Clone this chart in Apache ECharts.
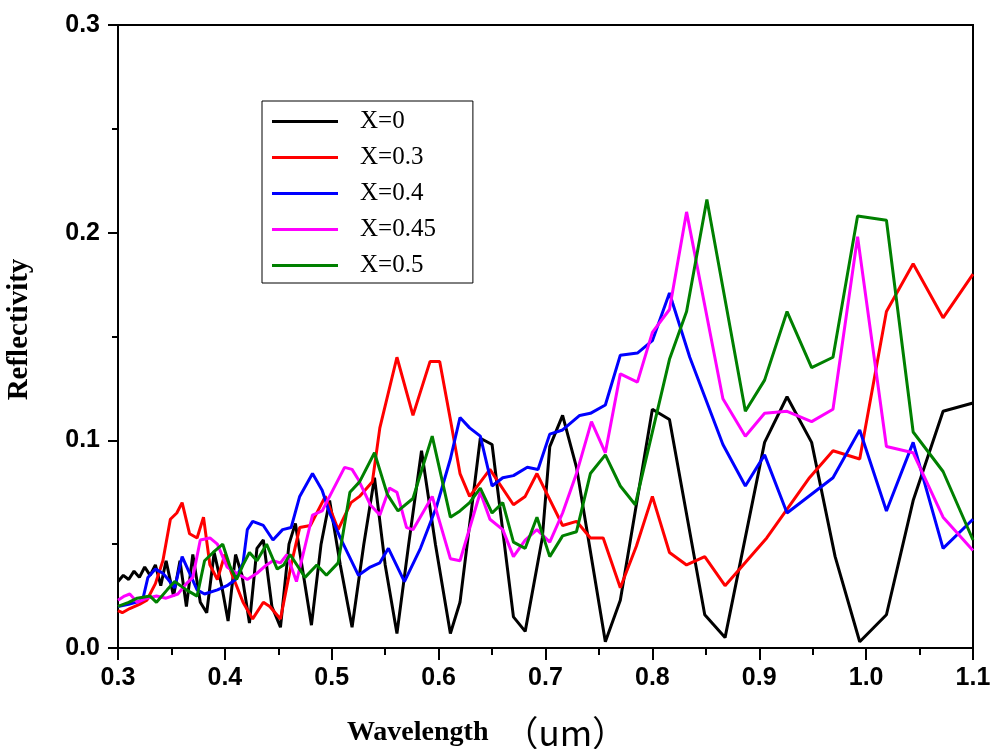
<!DOCTYPE html>
<html>
<head>
<meta charset="utf-8">
<script src="https://cdn.jsdelivr.net/npm/echarts@6/dist/echarts.min.js"></script>
<style>
  html, body { margin: 0; padding: 0; background: #fff; }
  #chart { width: 992px; height: 749px; }
</style>
</head>
<body>
<div id="chart"></div>
<script>
// wavelength (um) and reflectivity
const seriesNames = ['X=0', 'X=0.3', 'X=0.4', 'X=0.45', 'X=0.5']
const seriesColors = ['#000000', '#ff0000', '#0000ff', '#ff00ff', '#008000']

const wl0 = [0.300, 0.305, 0.310, 0.315, 0.320, 0.325, 0.330, 0.335, 0.340, 0.345, 0.352, 0.358, 0.364, 0.370, 0.377, 0.383, 0.390, 0.397, 0.403, 0.410, 0.416, 0.423, 0.430, 0.436, 0.444, 0.452, 0.460, 0.466, 0.472, 0.481, 0.490, 0.498, 0.508, 0.519, 0.530, 0.540, 0.550, 0.561, 0.572, 0.584, 0.597, 0.611, 0.620, 0.639, 0.650, 0.670, 0.681, 0.697, 0.704, 0.716, 0.729, 0.756, 0.770, 0.800, 0.816, 0.849, 0.868, 0.905, 0.926, 0.949, 0.971, 0.994, 1.019, 1.044, 1.072, 1.100]
const r0 = [0.032, 0.035, 0.033, 0.037, 0.034, 0.039, 0.035, 0.040, 0.030, 0.042, 0.025, 0.042, 0.020, 0.045, 0.022, 0.017, 0.046, 0.030, 0.013, 0.045, 0.035, 0.012, 0.048, 0.052, 0.020, 0.010, 0.050, 0.060, 0.040, 0.011, 0.050, 0.071, 0.040, 0.010, 0.050, 0.082, 0.040, 0.007, 0.050, 0.095, 0.050, 0.007, 0.022, 0.101, 0.098, 0.015, 0.008, 0.053, 0.097, 0.112, 0.087, 0.003, 0.023, 0.115, 0.110, 0.016, 0.005, 0.099, 0.121, 0.099, 0.044, 0.003, 0.016, 0.071, 0.114, 0.118]

const wl1 = [0.300, 0.304, 0.311, 0.320, 0.327, 0.335, 0.342, 0.349, 0.355, 0.360, 0.367, 0.374, 0.380, 0.386, 0.393, 0.400, 0.407, 0.417, 0.426, 0.436, 0.442, 0.452, 0.462, 0.470, 0.480, 0.494, 0.506, 0.518, 0.526, 0.538, 0.545, 0.561, 0.576, 0.592, 0.601, 0.611, 0.620, 0.629, 0.648, 0.670, 0.681, 0.692, 0.716, 0.729, 0.742, 0.754, 0.770, 0.785, 0.800, 0.816, 0.832, 0.849, 0.868, 0.907, 0.947, 0.969, 0.994, 1.019, 1.044, 1.072, 1.100]
const r1 = [0.018, 0.017, 0.019, 0.021, 0.023, 0.031, 0.042, 0.062, 0.065, 0.070, 0.055, 0.053, 0.063, 0.040, 0.033, 0.045, 0.035, 0.022, 0.014, 0.022, 0.020, 0.014, 0.040, 0.058, 0.059, 0.073, 0.057, 0.070, 0.073, 0.080, 0.106, 0.140, 0.112, 0.138, 0.138, 0.110, 0.084, 0.073, 0.086, 0.069, 0.073, 0.084, 0.059, 0.061, 0.053, 0.053, 0.029, 0.049, 0.073, 0.046, 0.040, 0.044, 0.030, 0.053, 0.082, 0.095, 0.091, 0.162, 0.185, 0.159, 0.180]

const wl2 = [0.300, 0.310, 0.323, 0.328, 0.335, 0.342, 0.347, 0.353, 0.360, 0.367, 0.374, 0.381, 0.393, 0.402, 0.410, 0.417, 0.421, 0.426, 0.436, 0.445, 0.454, 0.462, 0.470, 0.482, 0.491, 0.498, 0.508, 0.525, 0.536, 0.545, 0.553, 0.568, 0.583, 0.598, 0.611, 0.620, 0.629, 0.639, 0.650, 0.660, 0.670, 0.683, 0.693, 0.704, 0.716, 0.732, 0.742, 0.756, 0.770, 0.786, 0.800, 0.816, 0.819, 0.835, 0.866, 0.887, 0.905, 0.926, 0.969, 0.994, 1.019, 1.044, 1.072, 1.100]
const r2 = [0.020, 0.021, 0.023, 0.034, 0.038, 0.036, 0.033, 0.029, 0.044, 0.036, 0.028, 0.026, 0.028, 0.030, 0.033, 0.041, 0.057, 0.061, 0.059, 0.052, 0.057, 0.058, 0.073, 0.084, 0.076, 0.065, 0.053, 0.035, 0.039, 0.041, 0.048, 0.032, 0.048, 0.068, 0.091, 0.111, 0.106, 0.102, 0.078, 0.082, 0.083, 0.087, 0.086, 0.103, 0.105, 0.112, 0.113, 0.117, 0.141, 0.142, 0.148, 0.171, 0.166, 0.140, 0.098, 0.078, 0.093, 0.065, 0.082, 0.105, 0.066, 0.099, 0.048, 0.062]

const wl3 = [0.300, 0.306, 0.311, 0.318, 0.327, 0.336, 0.345, 0.356, 0.364, 0.370, 0.377, 0.386, 0.393, 0.402, 0.408, 0.421, 0.430, 0.439, 0.445, 0.452, 0.458, 0.467, 0.475, 0.482, 0.491, 0.501, 0.512, 0.519, 0.525, 0.536, 0.545, 0.554, 0.561, 0.570, 0.576, 0.594, 0.611, 0.620, 0.639, 0.648, 0.660, 0.670, 0.681, 0.692, 0.704, 0.716, 0.729, 0.743, 0.756, 0.770, 0.786, 0.800, 0.816, 0.832, 0.866, 0.887, 0.905, 0.926, 0.949, 0.969, 0.992, 1.019, 1.044, 1.072, 1.100]
const r3 = [0.023, 0.025, 0.026, 0.022, 0.024, 0.025, 0.024, 0.026, 0.031, 0.034, 0.052, 0.053, 0.050, 0.039, 0.037, 0.033, 0.036, 0.040, 0.042, 0.041, 0.045, 0.032, 0.049, 0.064, 0.066, 0.076, 0.087, 0.086, 0.081, 0.069, 0.064, 0.077, 0.075, 0.058, 0.057, 0.073, 0.043, 0.042, 0.075, 0.062, 0.057, 0.044, 0.052, 0.057, 0.051, 0.065, 0.084, 0.109, 0.094, 0.132, 0.128, 0.152, 0.163, 0.210, 0.120, 0.102, 0.113, 0.114, 0.109, 0.115, 0.198, 0.097, 0.094, 0.063, 0.047]

const wl4 = [0.300, 0.310, 0.318, 0.330, 0.336, 0.346, 0.353, 0.364, 0.374, 0.381, 0.389, 0.398, 0.405, 0.411, 0.417, 0.423, 0.430, 0.439, 0.449, 0.455, 0.461, 0.475, 0.486, 0.495, 0.506, 0.517, 0.526, 0.540, 0.552, 0.562, 0.576, 0.594, 0.611, 0.620, 0.629, 0.639, 0.650, 0.660, 0.670, 0.681, 0.692, 0.704, 0.716, 0.729, 0.742, 0.756, 0.770, 0.784, 0.816, 0.832, 0.851, 0.887, 0.905, 0.926, 0.949, 0.969, 0.992, 1.019, 1.044, 1.072, 1.100]
const r4 = [0.020, 0.022, 0.024, 0.025, 0.022, 0.028, 0.032, 0.028, 0.025, 0.042, 0.046, 0.050, 0.039, 0.033, 0.040, 0.046, 0.042, 0.050, 0.038, 0.040, 0.045, 0.034, 0.040, 0.035, 0.041, 0.075, 0.080, 0.094, 0.074, 0.066, 0.072, 0.102, 0.063, 0.066, 0.070, 0.077, 0.065, 0.070, 0.051, 0.048, 0.063, 0.044, 0.054, 0.056, 0.084, 0.093, 0.078, 0.069, 0.139, 0.162, 0.216, 0.114, 0.129, 0.162, 0.135, 0.140, 0.208, 0.206, 0.104, 0.085, 0.052]

const xTicks = { min: 0.3, max: 1.1, interval: 0.1 }
const yTicks = { min: 0, max: 0.3, interval: 0.1 }

function pairs(xs, ys) {
  return xs.map((x, i) => [x, ys[i]])
}

const allX = [wl0, wl1, wl2, wl3, wl4]
const allY = [r0, r1, r2, r3, r4]

const chart = echarts.init(document.getElementById('chart'), null, { renderer: 'canvas' })

const axisFont = { color: '#000', fontFamily: 'Arial, "Liberation Sans", sans-serif', fontWeight: 'bold', fontSize: 25 }
const serif = '"Times New Roman", "Liberation Serif", serif'

const option = {
  animation: false,
  backgroundColor: '#fff',
  grid: {
    left: 118, right: 19, top: 25, bottom: 101,
    containLabel: false,
    outerBoundsMode: 'none',
    show: true, borderColor: '#000', borderWidth: 2
  },
  legend: {
    orient: 'vertical',
    left: 262, top: 101,
    padding: [8, 37, 5, 10],
    itemGap: 11,
    itemWidth: 66,
    itemHeight: 3,
    icon: 'rect',
    borderColor: '#000',
    borderWidth: 1,
    borderRadius: 0,
    data: seriesNames,
    textStyle: {
      color: '#000',
      fontFamily: serif,
      fontSize: 25,
      lineHeight: 25,
      padding: [0, 0, 0, 17]
    }
  },
  xAxis: {
    type: 'value',
    min: xTicks.min, max: xTicks.max, interval: xTicks.interval,
    name: '{a|Wavelength}{b|（um）}',
    nameLocation: 'middle',
    nameGap: 67,
    nameTextStyle: {
      padding: [0, 117, 0, 0],
      rich: {
        a: { fontFamily: serif, fontWeight: 'bold', fontSize: 28, color: '#000' },
        b: { fontFamily: '"Noto Sans CJK SC", sans-serif', fontSize: 35, color: '#000', padding: [0, 0, 0, 15] }
      }
    },
    axisLine: { show: true, onZero: false, lineStyle: { color: '#000', width: 2 } },
    axisTick: { show: true, inside: false, length: 12, lineStyle: { color: '#000', width: 2 } },
    minorTick: { show: true, splitNumber: 2, length: 7, lineStyle: { color: '#000', width: 2 } },
    splitLine: { show: false },
    axisLabel: Object.assign({ margin: 18, formatter: v => v.toFixed(1) }, axisFont)
  },
  yAxis: {
    type: 'value',
    min: yTicks.min, max: yTicks.max, interval: yTicks.interval,
    name: 'Reflectivity',
    nameLocation: 'middle',
    nameGap: 84,
    nameTextStyle: {
      fontFamily: serif,
      fontWeight: 'bold', fontSize: 29, color: '#000',
      padding: [0, 0, 0, 14]
    },
    axisLine: { show: true, lineStyle: { color: '#000', width: 2 } },
    axisTick: { show: true, inside: false, length: 10, lineStyle: { color: '#000', width: 2 } },
    minorTick: { show: true, splitNumber: 2, length: 6, lineStyle: { color: '#000', width: 2 } },
    splitLine: { show: false },
    axisLabel: Object.assign({ margin: 18, formatter: v => v.toFixed(1) }, axisFont)
  },
  series: seriesNames.map((name, i) => ({
    name,
    type: 'line',
    data: pairs(allX[i], allY[i]),
    symbol: 'none',
    smooth: false,
    color: seriesColors[i],
    lineStyle: { color: seriesColors[i], width: 3 }
  }))
}

chart.setOption(option)
</script>
</body>
</html>
